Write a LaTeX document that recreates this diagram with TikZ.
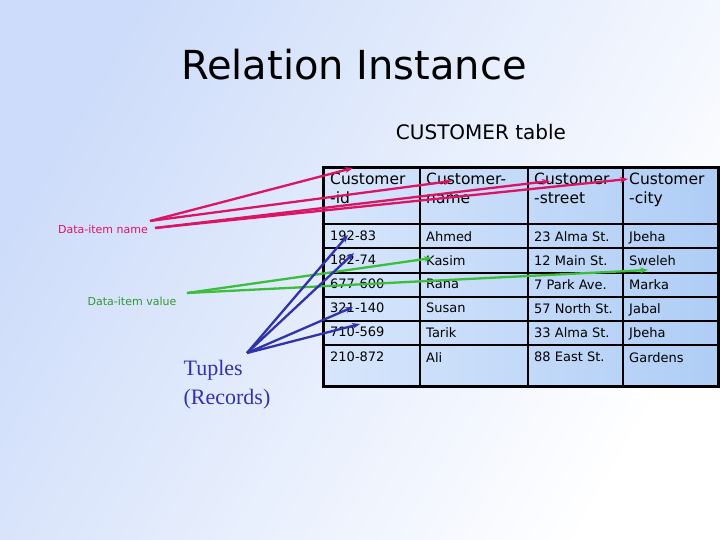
\documentclass[tikz,border=0pt]{standalone}
\usepackage{fontspec}
\setmainfont{DejaVu Sans}
\newfontfamily\serifF{Liberation Serif}
\usetikzlibrary{arrows.meta}
\definecolor{pinkred}{RGB}{220,20,100}
\definecolor{grn}{RGB}{60,190,60}
\definecolor{blu}{RGB}{50,50,170}
\definecolor{bgb}{RGB}{205,220,250}
\definecolor{tb1}{RGB}{215,230,252}
\definecolor{tb2}{RGB}{175,205,245}
\begin{document}
\begin{tikzpicture}[x=1pt,y=-1pt,
  cell/.style={anchor=north west,inner sep=0pt,font=\fontsize{13}{13}\selectfont},
  hcell/.style={anchor=north west,inner sep=0pt,align=left,font=\fontsize{15.5}{19}\selectfont},
  rarr/.style={pinkred,line width=2.3pt,-{Stealth[length=8pt,width=6pt]}},
  garr/.style={grn,line width=2.3pt,-{Stealth[length=8pt,width=6pt]}},
  barr/.style={blu,line width=2.3pt,-{Stealth[length=8pt,width=6pt]}}]
\useasboundingbox (0,0) rectangle (720,540);
\shade[left color=bgb,right color=white,shading angle=60] (0,0) rectangle (720,540);
\fill[left color=tb1,right color=tb2] (323,168) rectangle (718,386);
\draw[line width=3pt] (323,168) rectangle (718,386);
\foreach \x in {420,528,623} \draw[line width=2.6pt] (\x,168) -- (\x,386);
\foreach \y in {224,248,273,297,321,345} \draw[line width=2.6pt] (323,\y) -- (718,\y);
\node[font=\fontsize{40}{40}\selectfont] (title) at (354,65) {Relation Instance};
\node[font=\fontsize{20}{20}\selectfont] (ttl) at (481,132) {CUSTOMER table};
\node[hcell] (h1) at (330,173) {Customer\\-id};
\node[hcell] (h2) at (426,173) {Customer-\\name};
\node[hcell] (h3) at (534,173) {Customer\\-street};
\node[hcell] (h4) at (629,173) {Customer\\-city};
\foreach \r/\a/\b/\c/\d [count=\i] in {231/192-83/Ahmed/23 Alma St./Jbeha,255/182-74/Kasim/12 Main St./Sweleh,279/677-600/Rana/7 Park Ave./Marka,303/321-140/Susan/57 North St./Jabal,327/710-569/Tarik/33 Alma St./Jbeha,352/210-872/Ali/88 East St./Gardens}{
  \node[cell] (c\i a) at (330,\r) {\a};
  \node[cell] (c\i b) at (426,\r) {\b};
  \node[cell] (c\i c) at (534,\r) {\c};
  \node[cell] (c\i d) at (629,\r) {\d};
}
\node[pinkred,font=\fontsize{11}{11}\selectfont] (din) at (103,229) {Data-item name};
\node[grn!80!black,font=\fontsize{11}{11}\selectfont] (div) at (132,301) {Data-item value};
\node[blu,align=left,font=\serifF\fontsize{22}{29}\selectfont] (tup) at (227,385) {Tuples\\(Records)};
\coordinate (r0) at (150,221); \coordinate (r1) at (155,228);
\coordinate (g0) at (187,293); \coordinate (b0) at (247,353);
\coordinate (rt1) at (353,168); \coordinate (rt2) at (452,181);
\coordinate (rt3) at (550,181); \coordinate (rt4) at (628,179);
\draw[rarr] (r0) -- (rt1);
\draw[rarr] (r0) -- (rt2);
\draw[rarr] (r1) -- (rt3);
\draw[rarr] (r1) -- (rt4);
\coordinate (gt1) at (432,258); \coordinate (gt2) at (648,270);
\draw[garr] (g0) -- (gt1);
\draw[garr] (g0) -- (gt2);
\coordinate (bt1) at (348,235); \coordinate (bt2) at (354,253);
\coordinate (bt3) at (353,307); \coordinate (bt4) at (360,324);
\foreach \t in {bt1,bt2,bt3,bt4} \draw[barr] (b0) -- (\t);
\end{tikzpicture}
\end{document}
